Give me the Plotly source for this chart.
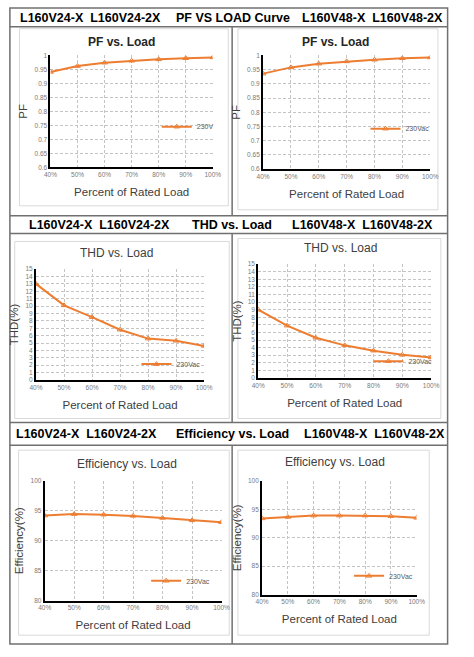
import plotly.graph_objects as go

W, H = 474, 657

# ---------------------------------------------------------------------------
# data
# ---------------------------------------------------------------------------
load_pct = [40, 50, 60, 70, 80, 90, 100]
load_labels = ["40%", "50%", "60%", "70%", "80%", "90%", "100%"]

pf_v24 = [0.941, 0.962, 0.974, 0.981, 0.986, 0.990, 0.993]
pf_v48 = [0.936, 0.958, 0.971, 0.979, 0.985, 0.990, 0.993]
thd_v24 = [13.0, 10.1, 8.5, 6.8, 5.6, 5.3, 4.6]
thd_v48 = [9.0, 6.9, 5.3, 4.3, 3.6, 3.05, 2.7]
eff_v24 = [94.2, 94.45, 94.35, 94.15, 93.8, 93.4, 93.1]
eff_v48 = [93.4, 93.65, 93.9, 93.9, 93.9, 93.8, 93.5]

series_names = ["230V", "230Vac", "230Vac", "230Vac", "230Vac", "230Vac"]
chart_titles = ["PF vs. Load", "PF vs. Load", "THD vs. Load", "THD vs. Load",
                "Efficiency vs. Load", "Efficiency vs. Load"]
y_titles = ["PF", "PF", "THD(%)", "THD(%)", "Efficiency(%)", "Efficiency(%)"]
x_title = "Percent of Rated Load"

model_left = "L160V24-X  L160V24-2X"
model_right = "L160V48-X  L160V48-2X"
row_titles = ["PF VS LOAD Curve", "THD vs. Load", "Efficiency vs. Load"]

FONT = "Liberation Sans, Arial, sans-serif"
ORANGE = "#ED7D31"
GRID = "#c4c4c4"


def px_x(v):
    return v / W


def px_y(v):
    return 1 - v / H


# plot area (left, right, top, bottom) in pixels, y range, dtick, legend spot,
# title spot, title bold
charts = [
    dict(y=pf_v24, box=(45, 213, 52, 165), yr=(0.6, 1.0), dt=0.05,
         leg=(155, 124), tt=(118, 38), bold=True),
    dict(y=pf_v48, box=(265, 438, 52, 167), yr=(0.6, 1.0), dt=0.05,
         leg=(371, 126), tt=(340, 38), bold=True),
    dict(y=thd_v24, box=(30, 204, 268, 380), yr=(0, 15), dt=1,
         leg=(134, 364), tt=(113, 252), bold=False),
    dict(y=thd_v48, box=(260, 439, 263, 378), yr=(0, 15), dt=1,
         leg=(374, 361), tt=(345, 247), bold=False),
    dict(y=eff_v24, box=(39, 222, 482, 603), yr=(80, 100), dt=5,
         leg=(144, 583), tt=(124, 465), bold=False),
    dict(y=eff_v48, box=(264, 424, 482, 597), yr=(80, 100), dt=5,
         leg=(354, 578), tt=(339, 463), bold=False),
]

fig = go.Figure()
layout = {}
annotations = []
shapes = []

for i, (c, name, ttl, ytl) in enumerate(zip(charts, series_names, chart_titles, y_titles)):
    n = i + 1
    suf = "" if n == 1 else str(n)
    legend_id = "legend" if n == 1 else f"legend{n}"
    fig.add_trace(
        go.Scatter(
            x=load_pct,
            y=c["y"],
            name=name,
            mode="lines+markers",
            line=dict(color=ORANGE, width=2),
            marker=dict(symbol="triangle-up-open", size=5, color=ORANGE, line=dict(width=1)),
            xaxis=f"x{suf}",
            yaxis=f"y{suf}",
            legend=legend_id,
            showlegend=True,
        )
    )
    x0, x1, y0, y1 = c["box"]
    layout[f"xaxis{suf}"] = dict(
        domain=[px_x(x0), px_x(x1)],
        anchor=f"y{suf}",
        range=[40, 100],
        tickmode="array",
        tickvals=load_pct,
        ticktext=load_labels,
        showline=True, linecolor="black", linewidth=2,
        showgrid=True, gridcolor=GRID, griddash="3px,2px", gridwidth=1,
        zeroline=False,
        ticks="",
        tickfont=dict(size=6.5, color="#7a7a7a", family=FONT),
        title=dict(text=x_title, font=dict(size=11.5, color="#404040", family=FONT), standoff=11),
    )
    layout[f"yaxis{suf}"] = dict(
        domain=[px_y(y1), px_y(y0)],
        anchor=f"x{suf}",
        range=list(c["yr"]),
        dtick=c["dt"],
        showline=True, linecolor="black", linewidth=2,
        showgrid=True, gridcolor=GRID, griddash="3px,2px", gridwidth=1,
        zeroline=False,
        ticks="",
        tickfont=dict(size=6.5, color="#7a7a7a", family=FONT),
        title=dict(text=ytl, font=dict(size=11.5, color="#404040", family=FONT), standoff=4),
    )
    lx, ly = c["leg"]
    layout[legend_id] = dict(
        x=px_x(lx), y=px_y(ly), xanchor="left", yanchor="middle",
        bgcolor="rgba(0,0,0,0)", borderwidth=0,
        font=dict(size=7, color="#595959", family=FONT),
        itemwidth=30, tracegroupgap=0,
    )
    tx, ty = c["tt"]
    annotations.append(dict(
        text=f"<b>{ttl}</b>" if c["bold"] else ttl,
        x=px_x(tx), y=px_y(ty), xref="paper", yref="paper",
        xanchor="center", yanchor="middle", showarrow=False,
        font=dict(size=12, color="#262626" if c["bold"] else "#404040", family=FONT),
    ))

# header rows of the datasheet table
header_y = [14, 223, 435]
for hy, rt, pos in zip(header_y, row_titles, [(86, 234, 378), (96, 233, 368), (82, 233, 380)]):
    for txt, hx in zip([model_left, rt, model_right], pos):
        annotations.append(dict(
            text=f"<b>{txt}</b>", x=px_x(hx), y=px_y(hy), xref="paper", yref="paper",
            xanchor="center", yanchor="middle", showarrow=False,
            font=dict(size=12.5, color="black", family=FONT),
        ))

# light grey chart-area frames
frames = [(13, 25, 229, 204), (239, 25, 446, 208), (8, 240, 230, 419),
          (239, 237, 449, 419), (12, 451, 230, 638), (239, 451, 437, 638)]
for fx0, fy0, fx1, fy1 in frames:
    shapes.append(dict(type="rect", xref="paper", yref="paper",
                       x0=px_x(fx0), x1=px_x(fx1), y0=px_y(fy1), y1=px_y(fy0),
                       line=dict(color="#d9d9d9", width=1), layer="below"))

# table borders
BORDER = dict(color="#707070", width=1.5)
L, R, T, B = 3, 456, 4, 647
shapes.append(dict(type="rect", xref="paper", yref="paper",
                   x0=px_x(L), x1=px_x(R), y0=px_y(B), y1=px_y(T), line=BORDER))
for hy in [23, 214, 232, 423, 446]:
    shapes.append(dict(type="line", xref="paper", yref="paper",
                       x0=px_x(L), x1=px_x(R), y0=px_y(hy), y1=px_y(hy), line=BORDER))
for ya, yb in [(23, 214), (232, 423), (446, 647)]:
    shapes.append(dict(type="line", xref="paper", yref="paper",
                       x0=px_x(233), x1=px_x(233), y0=px_y(ya), y1=px_y(yb), line=BORDER))

fig.update_layout(
    width=W, height=H,
    margin=dict(l=0, r=0, t=0, b=0),
    paper_bgcolor="white",
    plot_bgcolor="white",
    showlegend=True,
    font=dict(family=FONT),
    annotations=annotations,
    shapes=shapes,
    **layout,
)

# the page body has an 8px default margin; drop it so the figure sits at 0,0
fig.write_html(
    "out.html",
    config={"displayModeBar": False},
    post_script="document.body.style.margin = '0';",
)
